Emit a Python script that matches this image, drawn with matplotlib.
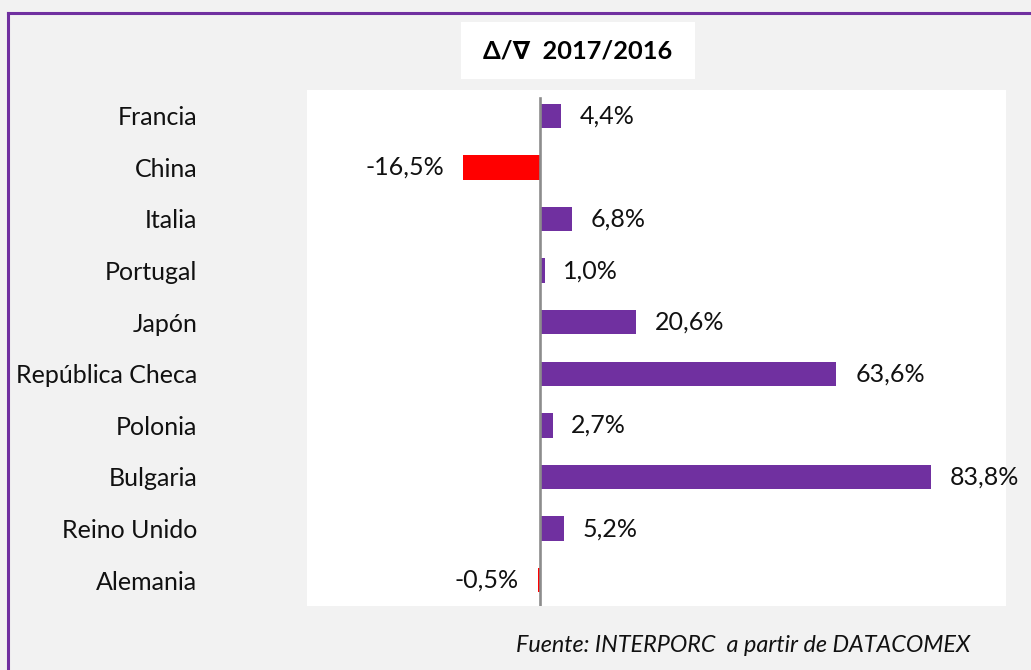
import matplotlib.pyplot as plt
from matplotlib.patches import Rectangle
from matplotlib.lines import Line2D

countries = ["Francia", "China", "Italia", "Portugal", "Japón",
             "República Checa", "Polonia", "Bulgaria", "Reino Unido", "Alemania"]
change = [4.4, -16.5, 6.8, 1.0, 20.6, 63.6, 2.7, 83.8, 5.2, -0.5]

W, H = 1031, 670
purple = "#7030a0"
red = "#ff0000"
font = ["Lato", "DejaVu Sans"]
plt.rcParams["font.family"] = font

fig = plt.figure(figsize=(W / 100, H / 100), dpi=100)
fig.patch.set_facecolor("#f2f2f2")

# plot area in pixels
ax = fig.add_axes([307 / W, 64 / H, 699 / W, 516 / H])
ax.set_facecolor("white")

y = list(range(len(countries)))
colors = [purple if v >= 0 else red for v in change]
ax.barh(y, change, height=0.47, color=colors)
ax.axvline(0, ymin=0.0, ymax=0.985, color="#8c8c8c", lw=1.9, zorder=3)

for yi, v in zip(y, change):
    lab = f"{v:.1f}".replace(".", ",") + "%"
    if v >= 0:
        ax.annotate(lab, (v, yi), xytext=(13.5, 0), textcoords="offset points",
                    ha="left", va="center", fontsize=18, color="#111111")
    else:
        ax.annotate(lab, (v, yi), xytext=(-13.5, 0), textcoords="offset points",
                    ha="right", va="center", fontsize=18, color="#111111")

ax.set_xlim(-50, 100)
ax.set_ylim(len(countries) - 0.5, -0.5)
ax.set_xticks([])
ax.set_yticks(y)
ax.set_yticklabels(countries, fontsize=18, color="#111111")
ax.tick_params(axis="y", length=0, pad=79)
for s in ax.spines.values():
    s.set_visible(False)

# title box
fig.patches.append(Rectangle((461 / W, (H - 79) / H), 234 / W, 57 / H,
                             transform=fig.transFigure, facecolor="white",
                             edgecolor="none"))
fig.text(578 / W, (H - 51) / H, "Δ/∇  2017/2016", ha="center", va="center",
         fontsize=18.3, fontweight="bold", color="black")

# source
fig.text(970 / W, (H - 645) / H, "Fuente: INTERPORC  a partir de DATACOMEX",
         ha="right", va="center", fontsize=16.8, style="italic", color="#111111")

# border (top and left)
fig.lines.append(Line2D([8 / W, 1], [(H - 13) / H, (H - 13) / H],
                        transform=fig.transFigure, color=purple, lw=2.2))
fig.lines.append(Line2D([8 / W, 8 / W], [0, (H - 13) / H],
                        transform=fig.transFigure, color=purple, lw=2.2))

fig.savefig("out.png", dpi=100, facecolor=fig.get_facecolor())
